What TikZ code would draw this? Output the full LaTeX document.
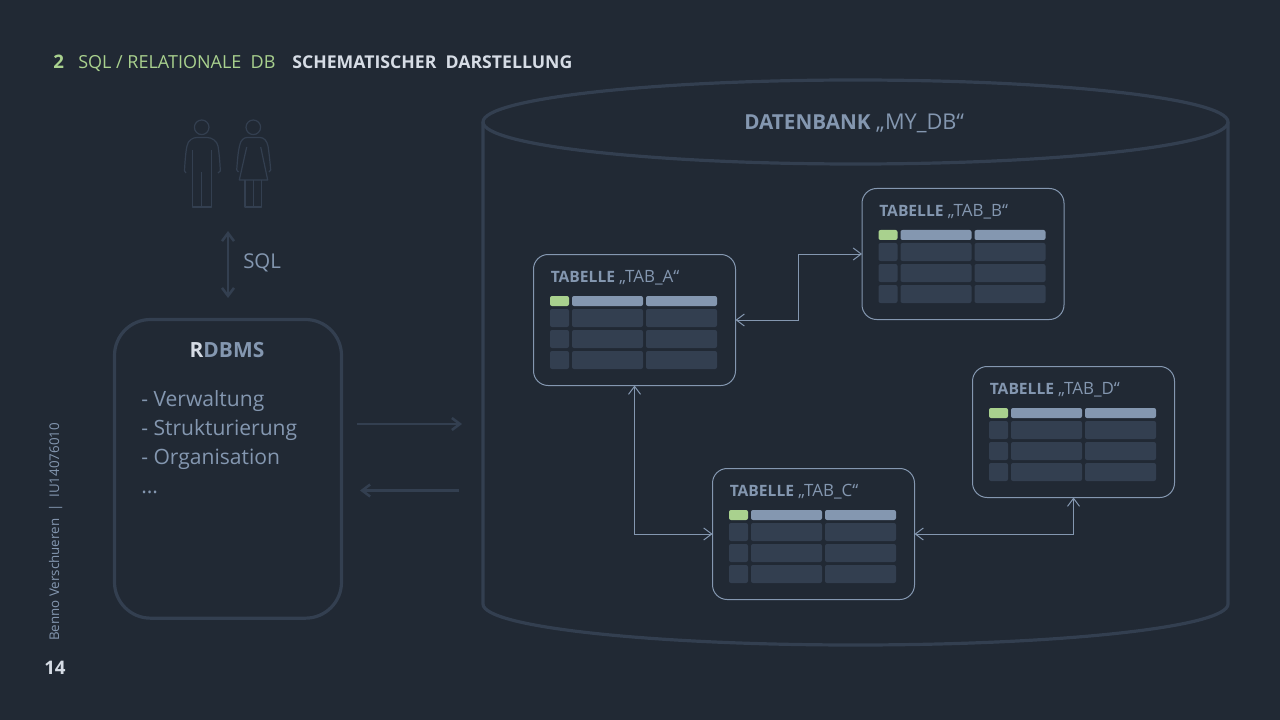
\documentclass[tikz,border=0pt]{standalone}
\usepackage{fontspec}
\setmainfont{Open Sans}
\usetikzlibrary{positioning}
\usetikzlibrary{calc,arrows.meta}
\definecolor{bgdark}{HTML}{212934}
\definecolor{linedark}{HTML}{333F50}
\definecolor{bluegrey}{HTML}{8497B0}
\definecolor{lightgrey}{HTML}{D6DCE5}
\definecolor{softgreen}{HTML}{A9D18E}
\tikzset{
	label text/.style={inner sep=0pt,anchor=base west,text=bluegrey},
	shape line/.style={draw=linedark,line width=2.4pt,outer sep=0pt},
	thick arrow/.style={draw=linedark,line width=1.9pt,-{Straight Barb[length=6pt,width=9pt]}},
	person line/.style={draw=linedark,line width=0.9pt,line join=round},
	table box/.style={draw=bluegrey,line width=0.75pt,rounded corners=11pt,anchor=north west,minimum width=151.5pt,minimum height=98.25pt,inner sep=0pt,outer sep=0pt},
	table link/.style={draw=bluegrey,line width=0.75pt,{Straight Barb[length=6pt,width=9pt]}-{Straight Barb[length=6pt,width=9pt]}},
	cell/.style={rounded corners=1.5pt}
}
% one table: box, caption, header line and three rows
\newcommand{\tabelle}[4]{
	\node[table box] (#1) at (#2,#3) {};
	\node[label text,font=\fontsize{12.7}{14}\selectfont] (#1title) at ($(#1.north west)+(17,28)$) {\textbf{\fontsize{11.7}{14}\selectfont TABELLE} „#4“};
	\fill[cell,softgreen] ($(#1.north west)+(16.5,41.5)$) rectangle ++(19,10);
	\fill[cell,bluegrey] ($(#1.north west)+(38.5,41.5)$) rectangle ++(71,10);
	\fill[cell,bluegrey] ($(#1.north west)+(112.5,41.5)$) rectangle ++(71,10);
	\foreach \row in {54.5,75.5,96.5} {
		\fill[cell,linedark] ($(#1.north west)+(16.5,\row)$) rectangle ++(19,18);
		\fill[cell,linedark] ($(#1.north west)+(38.5,\row)$) rectangle ++(71,18);
		\fill[cell,linedark] ($(#1.north west)+(112.5,\row)$) rectangle ++(71,18);
	}
}
\begin{document}
\begin{tikzpicture}[x=0.75pt,y=-0.75pt]
	\fill[bgdark] (0,0) rectangle (1280,720);
	\useasboundingbox (0,0) rectangle (1280,720);

	% headline
	\node[label text,text=softgreen,font=\fontsize{14}{16}\selectfont\bfseries] (chapter) at (53,69) {2};
	\node[label text,text=softgreen,font=\fontsize{13.5}{16}\selectfont] (topic) at (78,69) {SQL / RELATIONALE\ \ DB};
	\node[label text,text=lightgrey,font=\fontsize{13.25}{16}\selectfont\bfseries] (headline) at (292,69) {SCHEMATISCHER\ \ DARSTELLUNG};

	% footer
	\node[label text,rotate=90,font=\fontsize{10}{12}\selectfont] (author) at (59,641) {Benno Verschueren\ \ |\ \ IU14076010};
	\node[label text,text=lightgrey,font=\fontsize{14}{15}\selectfont\bfseries] (page) at (44,674) {14};

	% database cylinder
	\draw[shape line] (483,122) -- (483,604) .. controls (483,627) and (650,645) .. (855.5,645) .. controls (1061,645) and (1228,627) .. (1228,604) -- (1228,122);
	\draw[shape line] (855.5,122) ellipse [x radius=372.5,y radius=42];
	\node[label text,font=\fontsize{16.3}{18}\selectfont] (dbtitle) at (744,130) {\textbf{\fontsize{15.5}{18}\selectfont DATENBANK} „MY\_DB“};

	% tables
	\tabelle{tabA}{533.5}{254.5}{TAB\_A}
	\tabelle{tabB}{862}{188.5}{TAB\_B}
	\tabelle{tabC}{712.5}{468.5}{TAB\_C}
	\tabelle{tabD}{972.5}{366.5}{TAB\_D}

	\draw[table link] (tabA.east) -| ($(tabA.east)!0.5!(tabB.west)$) |- (tabB.west);
	\draw[table link] (tabA.south) |- (tabC.west);
	\draw[table link] (tabC.east) -| (tabD.south);

	% RDBMS box
	\node[shape line,rounded corners=27pt,anchor=north west,minimum width=170.25pt,minimum height=224pt,inner sep=0pt] (rdbms) at (114.5,319.5) {};
	\node[label text,anchor=base,font=\fontsize{15.7}{18}\selectfont\bfseries] (rdbmstitle) at (227,357) {\textcolor{lightgrey}{R}DBMS};
	\node[label text,font=\fontsize{15.8}{18}\selectfont] (task1) at (141,406) {- Verwaltung};
	\node[label text,font=\fontsize{15.8}{18}\selectfont] (task2) at (141,435) {- Strukturierung};
	\node[label text,font=\fontsize{15.8}{18}\selectfont] (task3) at (141,464) {- Organisation};
	\node[label text,font=\fontsize{15.8}{18}\selectfont] (task4) at (141,493) {...};

	% arrows between RDBMS and database
	\coordinate (outA) at (357,424);
	\coordinate (outB) at (462,424);
	\coordinate (backA) at (459,490.5);
	\coordinate (backB) at (360,490.5);
	\draw[thick arrow] (outA) -- (outB);
	\draw[thick arrow] (backA) -- (backB);

	% users and SQL
	\coordinate (sqlA) at (228,231);
	\coordinate (sqlB) at (228,298);
	\draw[thick arrow,{Straight Barb[length=6pt,width=9pt]}-{Straight Barb[length=6pt,width=9pt]}] (sqlA) -- (sqlB);
	\node[label text,font=\fontsize{15.3}{18}\selectfont] (sql) at (243,268) {SQL};

	\draw[person line] (201.7,127.3) circle [radius=7.3];
	\draw[person line] (184.5,171) .. controls (185,160) and (186,150) .. (187,146) .. controls (188,140) and (193,137.5) .. (197,137.5) -- (207,137.5) .. controls (212,137.5) and (217,141) .. (218,146) .. controls (219,152) and (220,162) .. (220.3,171) -- (218,173);
	\draw[person line] (184.5,171) -- (186,173);
	\draw[person line] (192.7,150) -- (192.7,207) -- (211.7,207) -- (211.7,150);
	\draw[person line] (201.7,172) -- (201.7,207);

	\draw[person line] (253.3,127.3) circle [radius=7.3];
	\draw[person line] (236.7,170) .. controls (237.5,160) and (238,152) .. (239.5,146) .. controls (240.5,140) and (244,137.5) .. (247,137.5) -- (260,137.5) .. controls (264,137.5) and (267,141) .. (268,146) .. controls (269,152) and (270,162) .. (270.7,170) -- (269,172);
	\draw[person line] (236.7,170) -- (238.5,172);
	\draw[person line] (246.7,147) -- (239.3,180) -- (267.7,180) -- (260.7,147);
	\draw[person line] (245,180) -- (245,207) -- (261.7,207) -- (261.7,180);
	\draw[person line] (253.3,180) -- (253.3,207);
\end{tikzpicture}
\end{document}
